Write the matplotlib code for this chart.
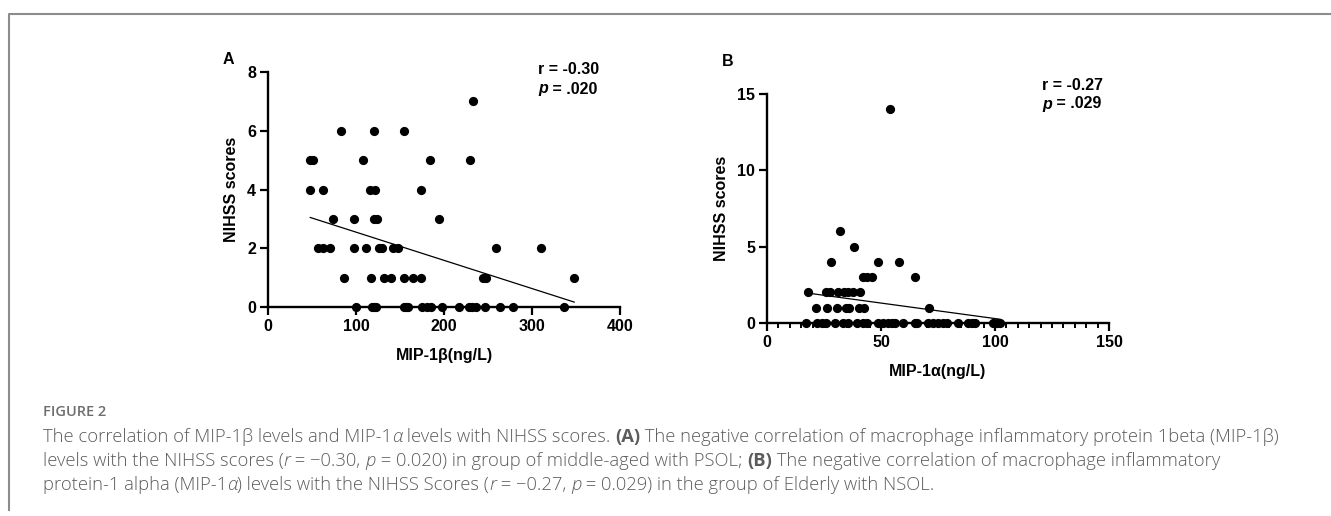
import numpy as np
import matplotlib
matplotlib.use('Agg')
import matplotlib.pyplot as plt
from matplotlib.lines import Line2D
from matplotlib.ticker import MultipleLocator

# Panel A: MIP-1beta vs NIHSS (middle-aged with PSOL)
a_x = [233,
       83, 120, 155,
       48, 51, 108, 184, 229,
       48, 63, 116, 122, 174,
       74, 98, 120, 124, 194,
       57, 63, 70, 98, 111, 126, 130, 142, 148, 259, 310,
       86, 117, 132, 140, 154, 165, 174, 244, 248, 348,
       100, 118, 120, 123, 154, 157, 159, 175, 181, 185, 198, 217, 228, 232, 236,
       247, 264, 278, 336]
a_y = [7,
       6, 6, 6,
       5, 5, 5, 5, 5,
       4, 4, 4, 4, 4,
       3, 3, 3, 3, 3,
       2, 2, 2, 2, 2, 2, 2, 2, 2, 2, 2,
       1, 1, 1, 1, 1, 1, 1, 1, 1, 1,
       0, 0, 0, 0, 0, 0, 0, 0, 0, 0, 0, 0, 0, 0, 0,
       0, 0, 0, 0]

# Panel B: MIP-1alpha vs NIHSS (elderly with NSOL)
b_x = [54,
       32,
       38,
       28, 48.5, 58,
       42, 44, 46, 65,
       18, 26, 27.6, 31.3, 33.8, 35.7, 37.6, 40.8,
       21.5, 26.5, 30.8, 34.6, 36.1, 40.5, 42.5, 71,
       17, 21.8, 24, 25.9, 29.8, 33.5, 35.7, 39.3, 42.3, 43.7, 48.8, 51, 53.2,
       54.7, 56.1, 59.8, 65, 66, 70.8, 73, 75.1, 77.1, 79.1, 83.9, 88.3, 89.8,
       91.2, 99, 100.7, 102.2]
b_y = [14,
       6,
       5,
       4, 4, 4,
       3, 3, 3, 3,
       2, 2, 2, 2, 2, 2, 2, 2,
       1, 1, 1, 1, 1, 1, 1, 1,
       0, 0, 0, 0, 0, 0, 0, 0, 0, 0, 0, 0, 0,
       0, 0, 0, 0, 0, 0, 0, 0, 0, 0, 0, 0, 0,
       0, 0, 0, 0]

a_stats = ['r = -0.30', '.020']
b_stats = ['r = -0.27', '.029']

W, H = 1331, 516
fig = plt.figure(figsize=(W / 100, H / 100), dpi=100)
plt.rcParams['font.family'] = ['Liberation Sans', 'DejaVu Sans']


def px(x, y):
    return x / W, 1 - y / H


def panel(rect, xs, ys, xlim, ylim, xticks, yticks, xlabel, minor=None):
    ax = fig.add_axes(rect)
    ax.scatter(xs, ys, s=44, color='black', zorder=3, clip_on=False, linewidths=0)
    k, b = np.polyfit(xs, ys, 1)
    lx = np.array([min(xs), max(xs)])
    ax.plot(lx, k * lx + b, color='black', lw=0.9, zorder=2)
    ax.set_xlim(*xlim)
    ax.set_ylim(*ylim)
    ax.set_xticks(xticks)
    ax.set_yticks(yticks)
    if minor:
        ax.xaxis.set_minor_locator(MultipleLocator(minor))
        ax.tick_params(axis='x', which='minor', length=3.5, width=1.4)
    for s in ['top', 'right']:
        ax.spines[s].set_visible(False)
    for s in ['left', 'bottom']:
        ax.spines[s].set_linewidth(1.7)
    ax.tick_params(which='major', length=5.5, width=1.6, labelsize=11.5, pad=3)
    for lab in ax.get_xticklabels() + ax.get_yticklabels():
        lab.set_fontweight('bold')
    ax.set_xlabel(xlabel, fontsize=11.5, fontweight='bold', labelpad=10)
    ax.set_ylabel('NIHSS scores', fontsize=11.5, fontweight='bold', labelpad=6)
    return ax


axA = panel([268 / W, 1 - 307 / H, 352 / W, 235 / H], a_x, a_y, (0, 400), (0, 8),
            [0, 100, 200, 300, 400], [0, 2, 4, 6, 8], 'MIP-1β(ng/L)')
axB = panel([767 / W, 1 - 323 / H, 342 / W, 229 / H], b_x, b_y, (0, 150), (0, 15),
            [0, 50, 100, 150], [0, 5, 10, 15], 'MIP-1α(ng/L)', minor=5)

fig.text(*px(223, 60), 'A', fontsize=11.5, fontweight='bold', va='center')
fig.text(*px(722, 61), 'B', fontsize=11.5, fontweight='bold', va='center')


def stats(x, y, vals):
    fig.text(*px(x, y), vals[0], fontsize=11.5, fontweight='bold', va='center')
    t = fig.text(*px(x, y + 19), 'p', fontsize=11.5, fontweight='bold',
                 style='italic', va='center')
    r = fig.canvas.get_renderer()
    w = t.get_window_extent(r).width
    fig.text((x + w) / W, 1 - (y + 19) / H, ' = ' + vals[1], fontsize=11.5,
             fontweight='bold', va='center')


stats(538, 70, a_stats)
stats(1042, 85, b_stats)

# frame
fig.add_artist(Line2D([9 / W, 9 / W, 1], [0.012, 1 - 14 / H, 1 - 14 / H],
                      color='#8c8c8c', lw=1.5, transform=fig.transFigure))

cap_font = ['Open Sans', 'DejaVu Sans']
cap_col = '#5c5c5c'
fig.text(*px(43, 412), 'FIGURE 2', family=cap_font, fontsize=10.5,
         fontweight='semibold', color='#6e6e6e', va='center')

lines = [
    [('The correlation of MIP-1β levels and MIP-1', ''), ('α', 'i'),
     (' levels with NIHSS scores. ', ''), ('(A)', 'b'),
     (' The negative correlation of macrophage inflammatory protein 1beta (MIP-1β)', '')],
    [('levels with the NIHSS scores (', ''), ('r', 'i'), (' = −0.30, ', ''), ('p', 'i'),
     (' = 0.020) in group of middle-aged with PSOL; ', ''), ('(B)', 'b'),
     (' The negative correlation of macrophage inflammatory', '')],
    [('protein-1 alpha (MIP-1', ''), ('α', 'i'), (') levels with the NIHSS Scores (', ''),
     ('r', 'i'), (' = −0.27, ', ''), ('p', 'i'), (' = 0.029) in the group of Elderly with NSOL.', '')],
]
renderer = fig.canvas.get_renderer()
for i, parts in enumerate(lines):
    x = 43
    y = 437 + i * 24
    for txt, st in parts:
        t = fig.text(*px(x, y), txt, family=cap_font, fontsize=13.2, color=cap_col,
                     va='center', fontweight='bold' if st == 'b' else 'light',
                     style='italic' if st == 'i' else 'normal')
        x += t.get_window_extent(renderer).width

fig.savefig('out.png', dpi=100)
